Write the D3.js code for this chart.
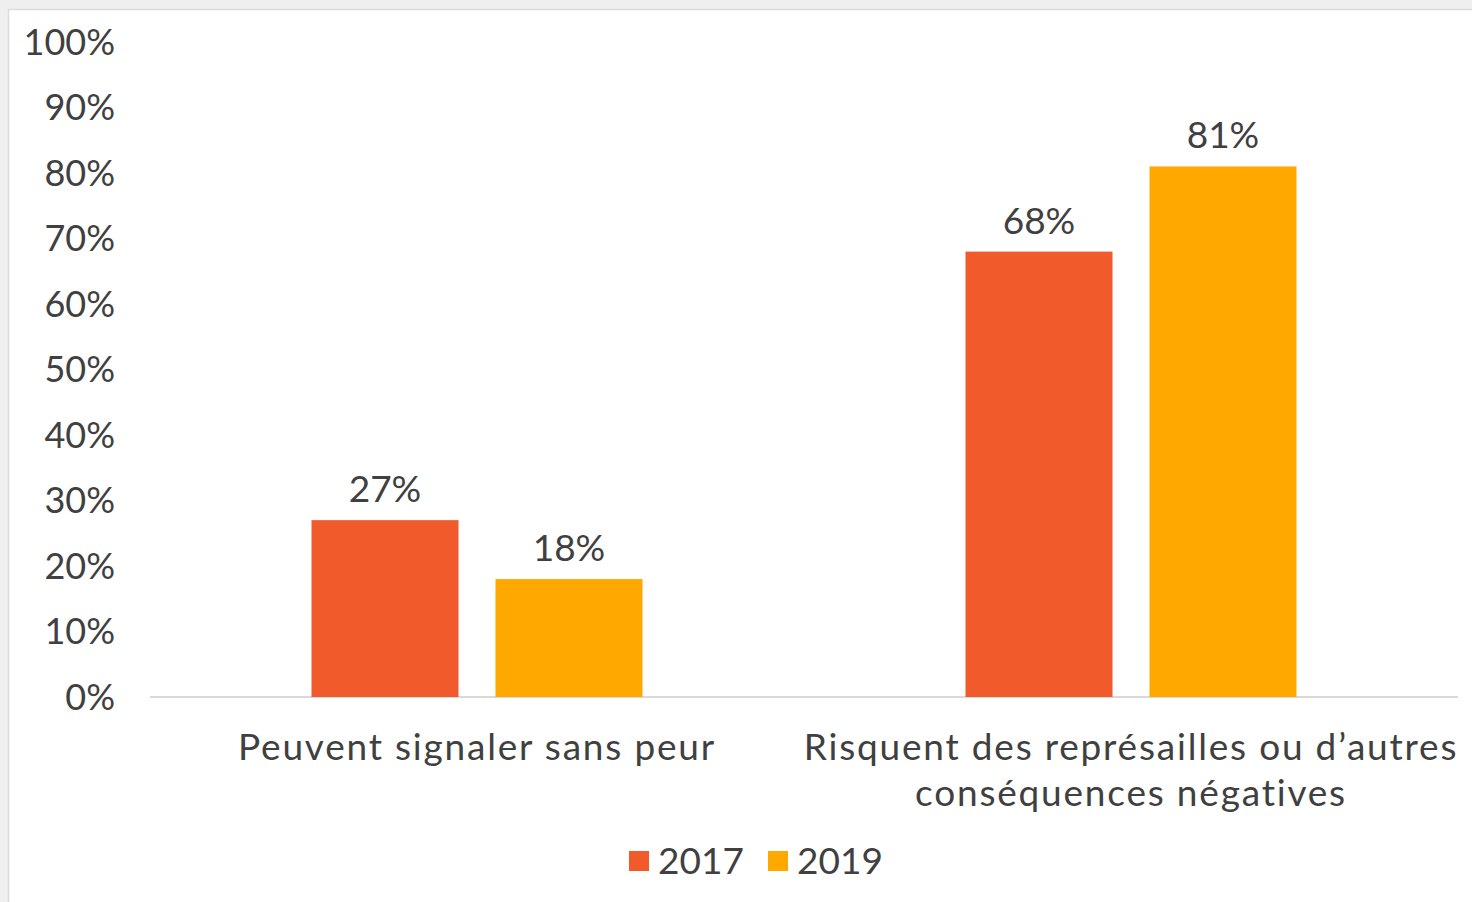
<!DOCTYPE html>
<html>
<head>
<meta charset="utf-8">
<script src="https://cdnjs.cloudflare.com/ajax/libs/d3/7.8.5/d3.min.js"></script>
<style>
  html, body { margin: 0; padding: 0; background: #eeeeee; }
  text { font-family: "Century Gothic", "Lato", sans-serif; fill: #404040; }
</style>
</head>
<body>
<div id="chart"></div>
<script>
// chart values
var categories = ["Peuvent signaler sans peur", "Risquent des représailles ou d’autres conséquences négatives"];
var categoryLines = [["Peuvent signaler sans peur"], ["Risquent des représailles ou d’autres", "conséquences négatives"]];
var seriesNames = ["2017", "2019"];
var values2017 = [27, 68];
var values2019 = [18, 81];
var yTicks = [0, 10, 20, 30, 40, 50, 60, 70, 80, 90, 100];
var colors = ["#F15A2B", "#FFA800"];

var svgWidth = 1472;
var svgHeight = 902;

var margin = { top: 42, right: 14, bottom: 205, left: 150 };
var chartWidth = svgWidth - margin.left - margin.right;
var chartHeight = svgHeight - margin.top - margin.bottom;

var svg = d3.select("#chart")
  .append("svg")
  .attr("width", svgWidth)
  .attr("height", svgHeight)
  .style("display", "block");

// slide background + white panel
svg.append("rect")
  .attr("width", svgWidth)
  .attr("height", svgHeight)
  .attr("fill", "#efefef");
svg.append("rect")
  .attr("x", 8.5)
  .attr("y", 9.5)
  .attr("width", svgWidth)
  .attr("height", svgHeight)
  .attr("fill", "#ffffff")
  .attr("stroke", "#dcdcdc")
  .attr("stroke-width", 1.5);

var chartGroup = svg.append("g")
  .attr("transform", `translate(${margin.left}, ${margin.top})`);

var data = categories.map(function(c, i) {
  return { cat: c, lines: categoryLines[i], vals: [values2017[i], values2019[i]] };
});

var x0 = d3.scaleBand()
  .domain(categories)
  .range([0, chartWidth]);

var groupPad = 161.5;
var x1 = d3.scaleBand()
  .domain(seriesNames)
  .range([groupPad, x0.bandwidth() - groupPad])
  .paddingInner(0.201);

var yScale = d3.scaleLinear()
  .domain([0, 100])
  .range([chartHeight, 0]);

// y tick labels
chartGroup.selectAll(".ytick")
  .data(yTicks)
  .enter()
  .append("text")
  .attr("class", "ytick")
  .attr("x", -35)
  .attr("y", d => yScale(d))
  .attr("dy", "0.36em")
  .attr("text-anchor", "end")
  .style("font-size", "36px")
  .text(d => d + "%");

// baseline
chartGroup.append("line")
  .attr("x1", 0)
  .attr("x2", chartWidth)
  .attr("y1", yScale(0))
  .attr("y2", yScale(0))
  .attr("stroke", "#d9d9d9")
  .attr("stroke-width", 2);

var groups = chartGroup.selectAll(".group")
  .data(data)
  .enter()
  .append("g")
  .attr("class", "group")
  .attr("transform", d => `translate(${x0(d.cat)}, 0)`);

groups.selectAll("rect")
  .data(d => d.vals.map((v, i) => ({ series: seriesNames[i], value: v, idx: i })))
  .enter()
  .append("rect")
  .attr("x", d => x1(d.series))
  .attr("y", d => yScale(d.value))
  .attr("width", x1.bandwidth())
  .attr("height", d => yScale(0) - yScale(d.value))
  .attr("fill", d => colors[d.idx]);

groups.selectAll(".vlabel")
  .data(d => d.vals.map((v, i) => ({ series: seriesNames[i], value: v })))
  .enter()
  .append("text")
  .attr("class", "vlabel")
  .attr("x", d => x1(d.series) + x1.bandwidth() / 2)
  .attr("y", d => yScale(d.value) - 18)
  .attr("text-anchor", "middle")
  .style("font-size", "37px")
  .text(d => d.value + "%");

// category labels
groups.each(function(d) {
  var t = d3.select(this).append("text")
    .attr("text-anchor", "middle")
    .style("font-size", "37px")
    .style("letter-spacing", "1.8px");
  d.lines.forEach(function(line, i) {
    t.append("tspan")
      .attr("x", x0.bandwidth() / 2)
      .attr("y", chartHeight + 63 + i * 46)
      .text(line);
  });
});

// legend
var legend = svg.append("g")
  .attr("transform", "translate(629, 851)");
var legendX = [0, 139];
seriesNames.forEach(function(s, i) {
  legend.append("rect")
    .attr("x", legendX[i])
    .attr("y", 0)
    .attr("width", 20)
    .attr("height", 20)
    .attr("fill", colors[i]);
  legend.append("text")
    .attr("x", legendX[i] + 29)
    .attr("y", 10)
    .attr("dy", "0.36em")
    .style("font-size", "37px")
    .text(s);
});
</script>
</body>
</html>
